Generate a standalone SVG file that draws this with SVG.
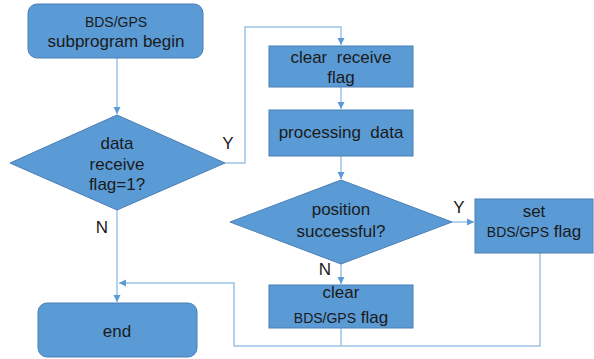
<svg xmlns="http://www.w3.org/2000/svg" width="594" height="359" viewBox="0 0 594 359">
<style>
.n{fill:#5B9BD5;stroke:#4A7EB5;stroke-width:1}
.t{font-family:"Liberation Sans",Arial,sans-serif;font-size:17px;fill:#1a1a1a;text-anchor:middle;white-space:pre}
.s{font-size:14px}
.c{fill:none;stroke:#9DC3E6;stroke-width:1.5}
</style>
<defs>
<marker id="a" markerWidth="8" markerHeight="8" refX="7" refY="4" orient="auto" markerUnits="userSpaceOnUse">
<path d="M0,0.5 L7,4 L0,7.5 Z" fill="#5B9BD5"/>
</marker>
</defs>
<rect width="594" height="359" fill="#fff"/>
<g id="connectors">
<path class="c" d="M117,58 V114" marker-end="url(#a)"/>
<path class="c" d="M225,163 H245 V27 H341 V45" marker-end="url(#a)"/>
<path class="c" d="M341,87 V109" marker-end="url(#a)"/>
<path class="c" d="M341,156 V179" marker-end="url(#a)"/>
<path class="c" d="M452,222 H474" marker-end="url(#a)"/>
<path class="c" d="M341,264 V284" marker-end="url(#a)"/>
<path class="c" d="M117,210 V302" marker-end="url(#a)"/>
<path class="c" d="M341,328 V346"/>
<path class="c" d="M540,253 V346 H234 V283 H119" marker-end="url(#a)"/>
<text class="t" x="228" y="149">Y</text>
<text class="t" x="102" y="233">N</text>
<text class="t" x="459" y="213">Y</text>
<text class="t" x="325" y="275">N</text>
</g>
<g id="start">
<rect class="n" x="28" y="4" width="175" height="54" rx="9"/>
<text class="t s" x="116" y="27">BDS/GPS</text>
<text class="t" x="116" y="47">subprogram begin</text>
</g>
<g id="decision1">
<polygon class="n" points="117,115 225,163 117,210 10,163"/>
<text class="t" x="117" y="149">data</text>
<text class="t" x="117" y="170">receive</text>
<text class="t" x="117" y="190">flag=1?</text>
</g>
<g id="clear-receive">
<rect class="n" x="269" y="46" width="144" height="41"/>
<text class="t" x="341" y="63">clear  receive</text>
<text class="t" x="341" y="83">flag</text>
</g>
<g id="processing">
<rect class="n" x="269" y="110" width="144" height="46"/>
<text class="t" x="341" y="138">processing  data</text>
</g>
<g id="decision2">
<polygon class="n" points="341,180 452,222 341,264 230,222"/>
<text class="t" x="341" y="215">position</text>
<text class="t" x="341" y="237">successful?</text>
</g>
<g id="set-flag">
<rect class="n" x="475" y="199" width="118" height="54"/>
<text class="t" x="534" y="217">set</text>
<text class="t" x="534" y="237"><tspan class="s">BDS/GPS</tspan> flag</text>
</g>
<g id="clear-flag">
<rect class="n" x="269" y="285" width="144" height="43"/>
<text class="t" x="341" y="298">clear</text>
<text class="t" x="341" y="323"><tspan class="s">BDS/GPS</tspan> flag</text>
</g>
<g id="end">
<rect class="n" x="38" y="303" width="159" height="54" rx="9"/>
<text class="t" x="117" y="337">end</text>
</g>
</svg>
